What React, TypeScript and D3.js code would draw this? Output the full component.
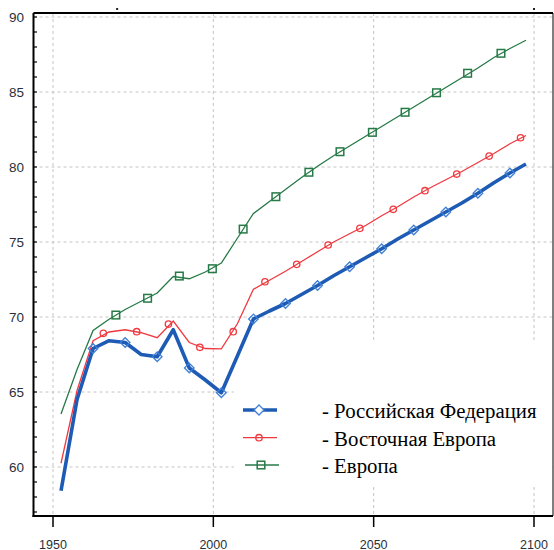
import React from "react";
import * as d3 from "d3";

const W = 554;
const H = 550;

// 5-year period midpoints
const periodYears = [
  1952.5, 1957.5, 1962.5, 1967.5, 1972.5, 1977.5, 1982.5, 1987.5, 1992.5, 1997.5,
  2002.5, 2007.5, 2012.5, 2017.5, 2022.5, 2027.5, 2032.5, 2037.5, 2042.5, 2047.5,
  2052.5, 2057.5, 2062.5, 2067.5, 2072.5, 2077.5, 2082.5, 2087.5, 2092.5, 2097.5,
];

const russiaValues = [
  58.42, 64.5, 67.9, 68.42, 68.3, 67.5, 67.35, 69.15, 66.6, 65.8,
  64.95, 67.4, 69.87, 70.4, 70.9, 71.5, 72.1, 72.75, 73.35, 73.95,
  74.55, 75.2, 75.8, 76.4, 77.0, 77.6, 78.25, 78.95, 79.6, 80.2,
];
const easternValues = [
  60.25, 65.1, 68.42, 69.0, 69.15, 68.95, 68.62, 69.73, 68.3, 67.9,
  67.88, 69.55, 71.85, 72.45, 73.05, 73.7, 74.35, 75.0, 75.55, 76.1,
  76.75, 77.35, 78.0, 78.6, 79.15, 79.7, 80.3, 80.9, 81.55, 82.1,
];
const europeValues = [
  63.53, 66.5, 69.1, 69.85, 70.5, 71.05, 71.6, 72.7, 72.55, 73.0,
  73.6, 75.25, 76.9, 77.7, 78.5, 79.3, 80.05, 80.75, 81.4, 82.05,
  82.7, 83.35, 84.0, 84.65, 85.3, 85.95, 86.6, 87.3, 87.9, 88.45,
];

// marker positions
const russiaMarkerYears = [1962.5, 1972.5, 1982.5, 1992.5, 2002.5, 2012.5, 2022.5, 2032.5, 2042.5, 2052.5, 2062.5, 2072.5, 2082.5, 2092.5];
const russiaMarkerValues = [67.9, 68.3, 67.35, 66.6, 64.95, 69.87, 70.9, 72.1, 73.35, 74.55, 75.8, 77.0, 78.25, 79.6];
const easternMarkerYears = [1965.7, 1976.1, 1986.0, 1995.8, 2006.2, 2016.1, 2026.0, 2035.8, 2045.7, 2056.1, 2066.0, 2075.9, 2086.0, 2095.8];
const easternMarkerValues = [68.91, 69.02, 69.53, 67.98, 69.02, 72.35, 73.51, 74.8, 75.91, 77.18, 78.42, 79.53, 80.73, 81.95];
const europeMarkerYears = [1969.6, 1979.5, 1989.4, 1999.7, 2009.3, 2019.5, 2029.8, 2039.5, 2049.6, 2059.8, 2069.6, 2079.3, 2089.7];
const europeMarkerValues = [70.13, 71.25, 72.73, 73.22, 75.86, 78.02, 79.65, 81.02, 82.31, 83.65, 84.95, 86.25, 87.58];

const xTicks = [1950, 2000, 2050, 2100];
const yTicks = [60, 65, 70, 75, 80, 85, 90];
const yMinorTicks = d3.range(57, 91);
const topDots = [1970, 2100];

const seriesNames = ["- Российская Федерация", "- Восточная Европа", "- Европа"];

const BLUE = "#1d5bb5";
const BLUE_MK = "#3f7fd6";
const RED = "#f0393f";
const GREEN = "#267a47";

export default function App() {
  const left = 33.5;
  const right = 553;
  const top = 13;
  const bottom = 516;
  const x = d3.scaleLinear().domain([1950, 2100]).range([53, 534]);
  const y = d3.scaleLinear().domain([60, 90]).range([467, 17]);

  const line = d3
    .line<[number, number]>()
    .x((d) => x(d[0]))
    .y((d) => y(d[1]));

  const mk = (vals: number[]) => periodYears.map((yr, i) => [yr, vals[i]] as [number, number]);

  const legendX1 = 243;
  const legendX2 = 277;
  const legendMid = 259;
  const legendYs = [410, 437.7, 465];
  const legendTextX = 322;

  const diamond = (cx: number, cy: number, r: number) =>
    `M${cx},${cy - r}L${cx + r},${cy}L${cx},${cy + r}L${cx - r},${cy}Z`;

  return (
    <svg
      width={W}
      height={H}
      style={{ position: "absolute", left: 0, top: 0, background: "#fff" }}
      fontFamily="'Liberation Sans', Arial, sans-serif"
    >
      <rect x={0} y={0} width={W} height={H} fill="#fff" />
      {/* grid */}
      {yTicks.map((t) => (
        <line key={"gy" + t} x1={left} x2={right} y1={y(t)} y2={y(t)} stroke="#c4c4c4" strokeWidth={1} strokeDasharray="3,3" />
      ))}
      {xTicks.map((t) => (
        <line key={"gx" + t} x1={x(t)} x2={x(t)} y1={top} y2={bottom} stroke="#c4c4c4" strokeWidth={1} strokeDasharray="3,3" />
      ))}

      {/* legend background (hides grid only) */}
      <rect x={234} y={342} width={318} height={144} fill="#fff" />

      {/* series */}
      <path d={line(mk(europeValues)) || ""} fill="none" stroke={GREEN} strokeWidth={1.3} />
      <path d={line(mk(easternValues)) || ""} fill="none" stroke={RED} strokeWidth={1.3} />
      <path d={line(mk(russiaValues)) || ""} fill="none" stroke={BLUE} strokeWidth={3.6} strokeLinejoin="round" />

      {europeMarkerYears.map((yr, i) => (
        <rect key={"gm" + i} x={x(yr) - 3.8} y={y(europeMarkerValues[i]) - 3.8} width={7.6} height={7.6} fill="none" stroke={GREEN} strokeWidth={1.5} />
      ))}
      {easternMarkerYears.map((yr, i) => (
        <circle key={"rm" + i} cx={x(yr)} cy={y(easternMarkerValues[i])} r={3.2} fill="none" stroke={RED} strokeWidth={1.3} />
      ))}
      {russiaMarkerYears.map((yr, i) => (
        <path key={"bm" + i} d={diamond(x(yr), y(russiaMarkerValues[i]), 4.8)} fill="none" stroke={BLUE_MK} strokeWidth={1.3} />
      ))}

      {/* legend */}
      <line x1={legendX1} x2={legendX2} y1={legendYs[0]} y2={legendYs[0]} stroke={BLUE} strokeWidth={3.6} />
      <path d={diamond(legendMid, legendYs[0], 5)} fill="#fff" stroke={BLUE_MK} strokeWidth={1.3} />
      <line x1={legendX1} x2={legendX2} y1={legendYs[1]} y2={legendYs[1]} stroke={RED} strokeWidth={1.3} />
      <circle cx={legendMid} cy={legendYs[1]} r={3.2} fill="none" stroke={RED} strokeWidth={1.3} />
      <line x1={legendX1 + 2} x2={legendX2 + 2} y1={legendYs[2]} y2={legendYs[2]} stroke={GREEN} strokeWidth={1.3} />
      <rect x={legendMid + 2 - 3.8} y={legendYs[2] - 3.8} width={7.6} height={7.6} fill="none" stroke={GREEN} strokeWidth={1.5} />
      {seriesNames.map((s, i) => (
        <text
          key={"lt" + i}
          x={legendTextX}
          y={legendYs[i] + 8}
          fontFamily="'Liberation Serif', 'Times New Roman', serif"
          fontSize={20.8}
          fill="#000"
        >
          {s}
        </text>
      ))}

      {/* axes frame */}
      <line x1={left} x2={right} y1={top} y2={top} stroke="#000" strokeWidth={2} />
      <line x1={right} x2={right} y1={top} y2={bottom} stroke="#000" strokeWidth={1} />
      <line x1={left} x2={left} y1={top} y2={bottom + 1} stroke="#000" strokeWidth={2} />
      <line x1={left - 1} x2={right} y1={bottom} y2={bottom} stroke="#000" strokeWidth={2} />
      {topDots.map((t) => (
        <rect key={"td" + t} x={x(t) - 1} y={top - 5} width={2} height={2} fill="#222" />
      ))}

      {/* y ticks */}
      {yMinorTicks.map((t) => (
        <line key={"ym" + t} x1={left} x2={left + 3.5} y1={y(t)} y2={y(t)} stroke="#000" strokeWidth={1.2} />
      ))}
      {yTicks.map((t) => (
        <text key={"yl" + t} x={24} y={y(t) + 4.8} textAnchor="end" fontSize={13.5} fill="#2b2f3a">
          {t}
        </text>
      ))}

      {/* x ticks */}
      {xTicks.map((t) => (
        <g key={"xt" + t}>
          <line x1={x(t)} x2={x(t)} y1={bottom} y2={bottom + 11} stroke="#000" strokeWidth={1.5} />
          <text x={x(t)} y={548.5} textAnchor="middle" fontSize={12.5} fill="#2b2f3a">
            {t}
          </text>
        </g>
      ))}
    </svg>
  );
}
